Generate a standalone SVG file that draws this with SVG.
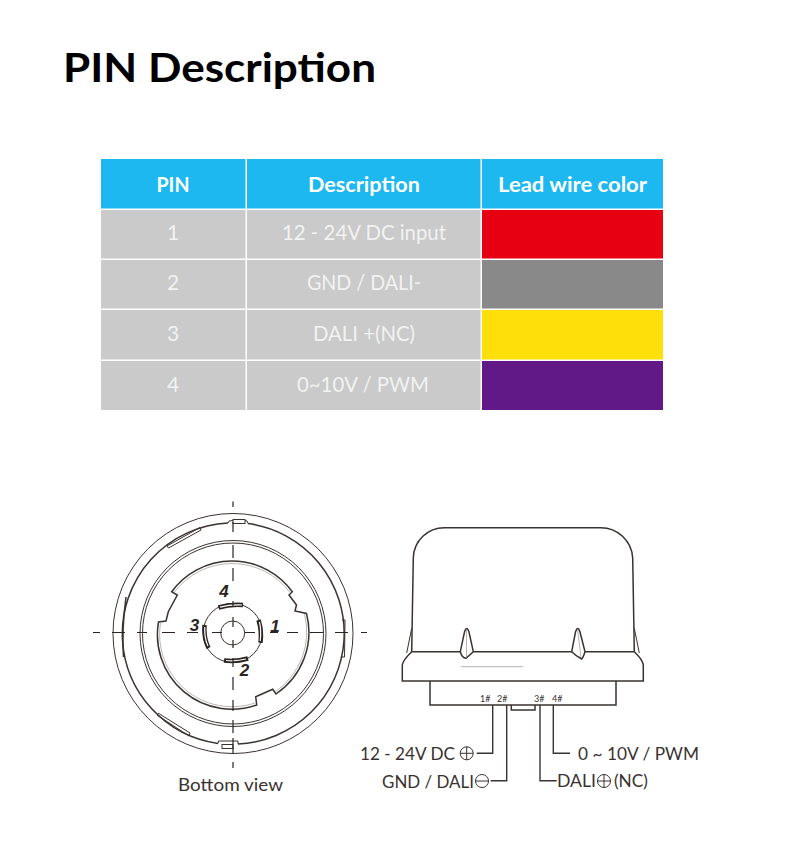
<svg xmlns="http://www.w3.org/2000/svg" width="790" height="860" viewBox="0 0 790 860">
<style>
text{font-family:"Lato","Open Sans","Liberation Sans",sans-serif}
.title{font-size:41px;font-weight:700;fill:#000}
.th{font-size:21px;font-weight:700;fill:#fff;text-anchor:middle}
.td{font-size:21px;fill:#f2f2f2;text-anchor:middle}
.lb{font-size:17.5px;fill:#3a3230}
.sm{font-size:9px;fill:#3a3230}
.pin{font-size:17px;font-weight:700;font-style:italic;fill:#2a2422;text-anchor:middle;font-family:"Liberation Sans",sans-serif}
.hd{fill:#1db8ef}.bd{fill:#c9cac9}
.l{fill:none;stroke:#3a3230;stroke-width:1}
.m{fill:none;stroke:#3a3230;stroke-width:1.5}
.t{fill:none;stroke:#8a8482;stroke-width:.6}
.c{fill:none;stroke:#3a3230;stroke-width:1.4}
.d{fill:none;stroke:#2a2422;stroke-width:1.2}
.pa{fill:none;stroke:#2a2422;stroke-width:4.5}
.pb{fill:none;stroke:#fff;stroke-width:1.2}
</style>
<rect width="790" height="860" fill="#fff"/>
<text id="title" class="title" x="63" y="82" textLength="313" lengthAdjust="spacingAndGlyphs">PIN Description</text>
<g id="table">
<rect class="hd" x="101" y="159" width="144.500" height="49.500"/><rect class="hd" x="247" y="159" width="233.500" height="49.500"/><rect class="hd" x="482" y="159" width="181" height="49.500"/>
<rect class="bd" x="101" y="210" width="144.500" height="48.500"/><rect class="bd" x="247" y="210" width="233.500" height="48.500"/><rect fill="#e60012" x="482" y="210" width="181" height="48.500"/>
<rect class="bd" x="101" y="260" width="144.500" height="48.500"/><rect class="bd" x="247" y="260" width="233.500" height="48.500"/><rect fill="#898989" x="482" y="260" width="181" height="48.500"/>
<rect class="bd" x="101" y="310" width="144.500" height="49.500"/><rect class="bd" x="247" y="310" width="233.500" height="49.500"/><rect fill="#ffdf0a" x="482" y="310" width="181" height="49.500"/>
<rect class="bd" x="101" y="361" width="144.500" height="49"/><rect class="bd" x="247" y="361" width="233.500" height="49"/><rect fill="#601986" x="482" y="361" width="181" height="49"/>
<text class="th" x="173" y="192" textLength="33" lengthAdjust="spacingAndGlyphs">PIN</text>
<text class="th" x="364" y="192" textLength="112" lengthAdjust="spacingAndGlyphs">Description</text>
<text class="th" x="572.500" y="192" textLength="149" lengthAdjust="spacingAndGlyphs">Lead wire color</text>
<text class="td" x="173" y="240">1</text>
<text class="td" x="364" y="240" textLength="164" lengthAdjust="spacingAndGlyphs">12 - 24V DC input</text>
<text class="td" x="173" y="290">2</text>
<text class="td" x="364" y="290" textLength="114" lengthAdjust="spacingAndGlyphs">GND / DALI-</text>
<text class="td" x="173" y="341">3</text>
<text class="td" x="364" y="341" textLength="102" lengthAdjust="spacingAndGlyphs">DALI +(NC)</text>
<text class="td" x="173" y="392">4</text>
<text class="td" x="363" y="392" textLength="132" lengthAdjust="spacingAndGlyphs">0~10V / PWM</text>
</g>
<g id="bottom-view">
<circle class="l" cx="233" cy="633.500" r="120"/>
<path class="m" d="M228 523A111 111 0 0 0 122.500 640A111 111 0 0 0 218 743.500M238 744A111 111 0 0 0 344 640A111 111 0 0 0 248 523.500"/>
<path class="l" d="M167 546L200 527.500L201 530L168.500 548Z"/>
<path class="l" d="M158 713L190 733L189 736L157 715"/>
<path class="m" d="M126 597Q121.500 630 123.500 657"/>
<path class="l" d="M342 620L345 620L344.500 657L340.700 657"/>
<path class="l" d="M228 523L229 521L233 520.500M245 520.500L247 521L248 523.500M218 743.500L218.500 741H238L238 744"/>
<rect class="l" x="233" y="519.500" width="12" height="4"/>
<rect class="l" x="222" y="744.500" width="11" height="4"/>
<circle class="l" cx="233" cy="633.500" r="93"/>
<circle class="l" cx="233" cy="633.500" r="90.500"/>
<path class="m" d="M171.700 591.700A74.500 74.500 0 0 1 292.300 591.700L289 595L296.500 605L295 611L306.500 613.500A74.500 74.500 0 0 1 276 694L272.700 689.300L255.700 696.700L256.700 705A74.500 74.500 0 0 1 158.500 622L166 621L168.300 611.700L177.300 595Z"/>
<path class="t" d="M174 592.500A72.500 72.500 0 0 1 290 592.500M304.500 614A72.500 72.500 0 0 1 275 692M255 703A72.500 72.500 0 0 1 160.500 623"/>
<circle class="l" cx="232.700" cy="633" r="29.500"/>
<circle class="l" cx="232.700" cy="633" r="12"/>
<path class="pa" d="M218.500 607.500Q230 604 243 605"/><path class="pb" d="M220 607.200Q230 604.500 242 605"/>
<path class="pa" d="M258.500 620Q262 631 260.500 642.700"/><path class="pb" d="M259.500 622Q261.500 631 260.200 641"/>
<path class="pa" d="M204.500 625Q203.500 638 208.500 648"/><path class="pb" d="M204.800 627Q204.200 638 208 646"/>
<path class="pa" d="M224 660.500Q236 662 248 658.500"/><path class="pb" d="M226 660.500Q236 661.500 246 659"/>
<text class="pin" x="224" y="597">4</text>
<text class="pin" x="275" y="632">1</text>
<text class="pin" x="194.500" y="631">3</text>
<text class="pin" x="244.500" y="676">2</text>
<path class="d" d="M233 501.500V507M233 522V532M233 545V558M233 568V581M233 601V607M233 617V627M233 640V648M233 658V667M233 677V690M233 700V711M233 720V733M233 738V753M233 762V768"/>
<path class="d" d="M93 632.500H100M112 632.500H125M137 632.500H147M162 632.500H175M187 632.500H198M212 632.500H222M245 632.500H255M270 632.500H278M287 632.500H298M310 632.500H323M335 632.500H348M361 632.500H367"/>
<text id="bottom-view-label" class="lb" x="178" y="791" textLength="105" lengthAdjust="spacingAndGlyphs">Bottom view</text>
</g>
<g id="side-view">
<path class="m" d="M411.700 651.700L413.300 558A31 31 0 0 1 445 527.700H600A32 32 0 0 1 632.700 558L634.300 651.700"/>
<path class="m" d="M402.300 665V681H643.300V665Q643 660 634.300 651.700H585M571.700 651.700H473.300M460.300 651.700H411.700Q403 660 402.300 665"/>
<path class="l" d="M411.700 628.300L406.700 653M634.300 628.300L639.300 653"/>
<path class="m" d="M460.300 651.700L464.500 632Q466.700 625 469 632L473.300 651.700L466 658.300Q462 658 460.300 651.700Z"/>
<path class="t" d="M466.500 630L466.500 658M577.700 630L581 658"/>
<path class="m" d="M571.700 651.700L575.500 632Q577.700 625 580 632L585 651.700Q583 658 581.700 659Q576 656 571.700 651.700Z"/>
<path stroke="#b5b2b0" stroke-width="1" fill="none" d="M461 666.700H523"/>
<path class="m" d="M430 681V705H616V681"/>
<path class="m" d="M511.300 705V710H535V705"/>
<text class="sm" x="480" y="702">1#</text>
<text class="sm" x="497" y="702">2#</text>
<text class="sm" x="534" y="702">3#</text>
<text class="sm" x="552" y="702">4#</text>
<circle class="l" cx="466.700" cy="753.300" r="6.500"/>
<path class="l" d="M460.200 753.300H473.200M466.700 746.800V759.800"/>
<circle class="l" cx="482" cy="781" r="6.500"/>
<path class="l" d="M475.500 781H488.500"/>
<circle class="l" cx="604" cy="781" r="6.500"/>
<path class="l" d="M597.500 781H610.500M604 774.500V787.500"/>
<text class="lb" x="360" y="760" textLength="95" lengthAdjust="spacingAndGlyphs">12 - 24V DC</text>
<text class="lb" x="382" y="788" textLength="92" lengthAdjust="spacingAndGlyphs">GND / DALI</text>
<text class="lb" x="557" y="787" textLength="39" lengthAdjust="spacingAndGlyphs">DALI</text>
<text class="lb" x="614" y="787" textLength="34" lengthAdjust="spacingAndGlyphs">(NC)</text>
<text class="lb" x="578" y="760" textLength="121" lengthAdjust="spacingAndGlyphs">0 ~ 10V / PWM</text>
</g>
<g id="connectors">
<path class="c" d="M492.700 705V753.300H476.700"/>
<path class="c" d="M506.700 705V780.700H490.700"/>
<path class="c" d="M540 705V780.700H556.700"/>
<path class="c" d="M553.300 705V753.300H570"/>
</g>
</svg>
